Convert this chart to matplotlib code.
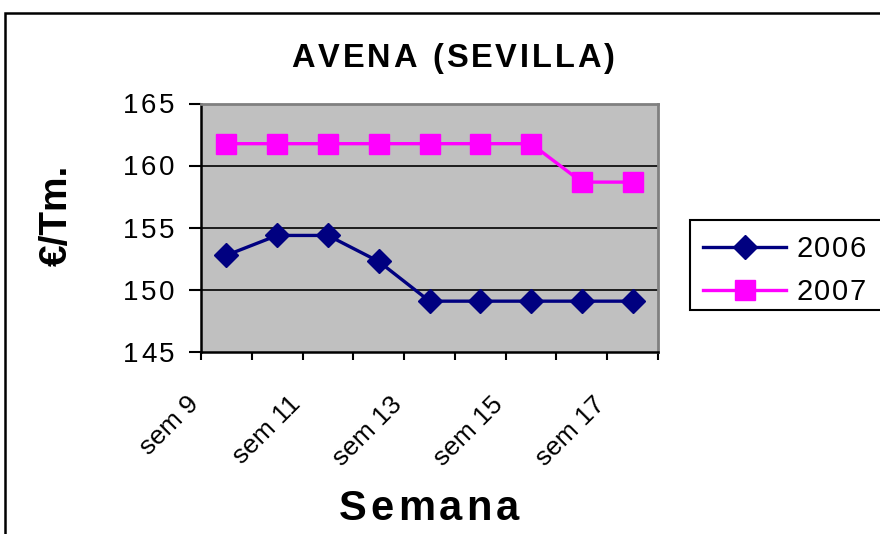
import matplotlib
matplotlib.use("Agg")
import matplotlib.pyplot as plt
import matplotlib.transforms as mtransforms
from matplotlib.patches import Rectangle
from matplotlib.lines import Line2D
from matplotlib.font_manager import findfont, FontProperties
from matplotlib.ft2font import FT2Font
import numpy as np

weeks = ["sem 9", "sem 10", "sem 11", "sem 12", "sem 13", "sem 14", "sem 15", "sem 16", "sem 17"]
s2006 = [152.8, 154.4, 154.4, 152.3, 149.1, 149.1, 149.1, 149.1, 149.1]
s2007 = [161.8, 161.8, 161.8, 161.8, 161.8, 161.8, 161.8, 158.7, 158.7]
series_names = ["2006", "2007"]
yticks = [145, 150, 155, 160, 165]
title = "AVENA (SEVILLA)"
xlabel = "Semana"
ylabel = "€/Tm."

FAM = "Liberation Sans"
plt.rcParams["font.family"] = [FAM, "DejaVu Sans"]

W, H = 880, 534
DPI = 100
fig = plt.figure(figsize=(W / DPI, H / DPI), dpi=DPI)
fig.patch.set_facecolor("white")


def spaced_text(s, x, baseline_y, size, spacing, weight="normal", ha="center"):
    """Draw text at pixel position (y from top) with extra letter spacing (px)."""
    fp = FontProperties(family=FAM, weight=weight)
    f = FT2Font(findfont(fp))
    f.set_size(size, DPI)
    adv = [f.load_char(ord(c)).linearHoriAdvance / 65536 for c in s]
    total = sum(adv) + spacing * (len(s) - 1)
    if ha == "center":
        x0 = x - total / 2
    elif ha == "right":
        x0 = x - total
    else:
        x0 = x
    for c, a in zip(s, adv):
        if c != " ":
            fig.text(x0 / W, 1 - baseline_y / H, c, ha="left", va="baseline",
                     fontsize=size, fontweight=weight, family=FAM)
        x0 += a + spacing


# outer frame
fig.patches.append(Rectangle((5 / W, -0.5), 2.0, 0.5 + (1 - 13 / H), transform=fig.transFigure,
                             fill=False, edgecolor="black", linewidth=1.8, zorder=0))

ax = fig.add_axes([201 / W, 1 - 352 / H, (658 - 201) / W, (352 - 104) / H])
ax.set_facecolor("#c0c0c0")

styles = [dict(color="#000080", marker="D", ms=12), dict(color="#ff00ff", marker="s", ms=15)]
x = np.arange(len(weeks))
for vals, name, st in zip([s2006, s2007], series_names, styles):
    ax.plot(x, vals, color=st["color"], lw=2.4, marker=st["marker"], ms=st["ms"],
            markeredgecolor=st["color"], label=name, zorder=3)

ax.set_xlim(-0.5, len(weeks) - 0.5)
ax.set_ylim(yticks[0], yticks[-1])
ax.set_yticks(yticks)
ax.set_yticklabels([])
ax.set_xticks(np.arange(-0.5, len(weeks), 1))
ax.set_xticklabels([])
ax.tick_params(axis="x", direction="out", length=6, width=1.5, color="black")
ax.tick_params(axis="y", direction="out", length=8.5, width=1.5, color="black")

for v in yticks[1:-1]:
    ax.axhline(v, color="black", lw=1.2, zorder=1)

for s in ["left", "bottom"]:
    ax.spines[s].set_color("black")
    ax.spines[s].set_linewidth(1.8)
for s in ["right", "top"]:
    ax.spines[s].set_color("#808080")
    ax.spines[s].set_linewidth(2)

# y tick labels with letter spacing, positioned from the data transform
for v in yticks:
    _, ypix = ax.transData.transform((0, v))
    ytop = H - ypix
    spaced_text(str(v), 174, ytop + 9.5, 20, 2.2, ha="right")

# rotated category labels, every other one
trans = mtransforms.blended_transform_factory(ax.transData, ax.transAxes)
off = mtransforms.ScaledTranslation(-40 / DPI, -40 / DPI, fig.dpi_scale_trans)
for i, lab in enumerate(weeks):
    if i % 2 == 0:
        ax.text(i, 0, lab, transform=trans + off, rotation=45, rotation_mode="anchor",
                ha="right", va="top", fontsize=19)

spaced_text(title, 453, 67, 23.5, 2.9, weight="bold")
spaced_text(xlabel, 429, 520, 30, 4.2, weight="bold")
fig.text(57 / W, 1 - 215 / H, ylabel, ha="center", va="center", rotation=90,
         fontsize=28, fontweight="bold")

# legend drawn manually
fig.patches.append(Rectangle((690 / W, 1 - 310 / H), 220 / W, 90 / H, transform=fig.transFigure,
                             facecolor="white", edgecolor="black", linewidth=1.5, zorder=2))
row_y = [246.5, 290]
for name, st, ry in zip(series_names, styles, row_y):
    yf = 1 - ry / H
    fig.add_artist(Line2D([703 / W, 786 / W], [yf, yf], transform=fig.transFigure,
                          color=st["color"], lw=2.4, zorder=3))
    fig.add_artist(Line2D([744.5 / W], [yf], transform=fig.transFigure, color=st["color"],
                          marker=st["marker"], ms=st["ms"], markeredgecolor=st["color"],
                          lw=0, zorder=4))
    spaced_text(name, 796, ry + 10.5, 21, 1.7, ha="left")

fig.savefig("out.png", dpi=DPI)
